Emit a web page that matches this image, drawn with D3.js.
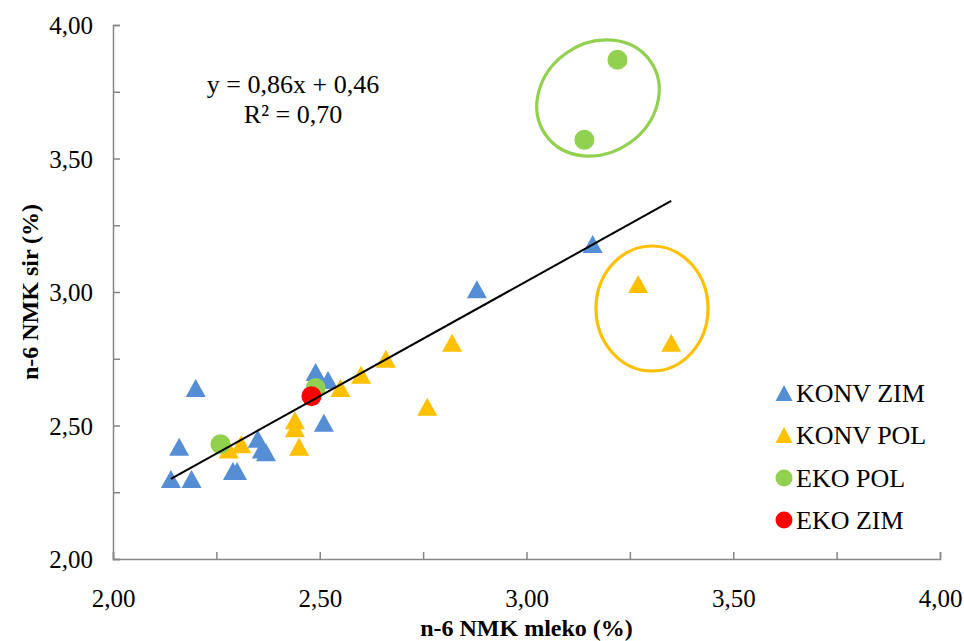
<!DOCTYPE html>
<html>
<head>
<meta charset="utf-8">
<script src="https://cdn.jsdelivr.net/npm/d3@7"></script>
<style>
  html, body { margin: 0; padding: 0; background: #ffffff; }
  svg { display: block; font-family: "Liberation Serif", "Times New Roman", serif; }
</style>
</head>
<body>
<svg id="chart" width="964" height="641"></svg>
<script>
// n-6 fatty acids: milk (x) vs cheese (y), in %
const konvZim = [
  [2.14, 2.30], [2.16, 2.42], [2.20, 2.64], [2.19, 2.30], [2.29, 2.33],
  [2.30, 2.33], [2.35, 2.45], [2.36, 2.41], [2.37, 2.40], [2.49, 2.70],
  [2.52, 2.67], [2.51, 2.51], [2.88, 3.01], [3.16, 3.18]
];
const konvPol = [
  [2.28, 2.41], [2.31, 2.43], [2.44, 2.52], [2.44, 2.49], [2.45, 2.42],
  [2.55, 2.64], [2.60, 2.69], [2.66, 2.75], [2.82, 2.81], [2.76, 2.57],
  [3.27, 3.03], [3.35, 2.81]
];
const ekoPol = [[2.26, 2.43], [2.49, 2.64], [3.14, 3.57], [3.22, 3.87]];
const ekoZim = [[2.48, 2.61]];

const seriesNames = ["KONV ZIM", "KONV POL", "EKO POL", "EKO ZIM"];
const seriesColors = ["#558ED5", "#FFC000", "#92D050", "#FF0000"];
const seriesShapes = ["triangle", "triangle", "circle", "circle"];

// regression shown on the chart
const slope = 0.86;
const intercept = 0.46;
const rSquared = 0.70;

const xTicks = [2.00, 2.25, 2.50, 2.75, 3.00, 3.25, 3.50, 3.75, 4.00];
const yTicks = [2.00, 2.25, 2.50, 2.75, 3.00, 3.25, 3.50, 3.75, 4.00];
const labelledTicks = [2.00, 2.50, 3.00, 3.50, 4.00];

const serif = "'Liberation Serif', 'Times New Roman', serif";
const svg = d3.select("#chart");
const x = d3.scaleLinear().domain([2, 4]).range([113, 940]);
const y = d3.scaleLinear().domain([2, 4]).range([559, 25]);

const comma = v => d3.format(".2f")(v).replace(".", ",");
const fmt = v => labelledTicks.some(t => Math.abs(t - v) < 1e-9) ? comma(v) : "";

const axisColor = "#868686";

// x axis: ticks point up into the plot
const gx = svg.append("g")
  .attr("transform", `translate(0,${y(2)})`)
  .call(d3.axisBottom(x).tickValues(xTicks).tickSize(-7).tickPadding(30).tickFormat(fmt));
// y axis: ticks point right into the plot
const gy = svg.append("g")
  .attr("transform", `translate(${x(2)},0)`)
  .call(d3.axisLeft(y).tickValues(yTicks).tickSize(-7).tickPadding(20).tickFormat(fmt));

[gx, gy].forEach(g => {
  g.attr("font-family", serif).attr("font-size", 25);
  g.select(".domain").attr("stroke", axisColor).attr("stroke-width", 1.5);
  g.selectAll(".tick line").attr("stroke", axisColor).attr("stroke-width", 1.5);
  g.selectAll(".tick text")
    .attr("fill", "#000")
    .style("font-family", serif)
    .style("font-size", "25px");
});
gy.selectAll(".tick text").attr("dy", "0.34em");

// axis titles
svg.append("text")
  .attr("x", (x(2) + x(4)) / 2).attr("y", 636)
  .attr("text-anchor", "middle")
  .style("font-family", serif)
  .style("font-size", "24px").style("font-weight", "bold")
  .text("n-6 NMK mleko (%)");
svg.append("text")
  .attr("transform", `translate(38,${y(3)}) rotate(-90)`)
  .attr("text-anchor", "middle")
  .style("font-family", serif)
  .style("font-size", "24px").style("font-weight", "bold")
  .text("n-6 NMK sir (%)");

// group ellipses
svg.append("ellipse")
  .attr("cx", 598).attr("cy", 98).attr("rx", 64).attr("ry", 55)
  .attr("transform", "rotate(-35,598,98)")
  .attr("fill", "none").attr("stroke", "#92D050").attr("stroke-width", 3.2);
svg.append("ellipse")
  .attr("cx", 652).attr("cy", 308.5).attr("rx", 56).attr("ry", 62.5)
  .attr("fill", "none").attr("stroke", "#FFC000").attr("stroke-width", 3.2);

// markers
const allSeries = [konvZim, konvPol, ekoPol, ekoZim];
const triW = 20, triH = 18, circR = 10;
function trianglePath(w, h) {
  return `M0,${-h / 2}L${w / 2},${h / 2}L${-w / 2},${h / 2}Z`;
}

allSeries.forEach((data, i) => {
  const g = svg.append("g");
  if (seriesShapes[i] === "triangle") {
    g.selectAll("path").data(data).join("path")
      .attr("d", trianglePath(triW, triH))
      .attr("transform", d => `translate(${x(d[0])},${y(d[1])})`)
      .attr("fill", seriesColors[i]);
  } else {
    g.selectAll("circle").data(data).join("circle")
      .attr("cx", d => x(d[0])).attr("cy", d => y(d[1])).attr("r", circR)
      .attr("fill", seriesColors[i]);
  }
});

// linear trend line over the full data range
const allX = allSeries.flat().map(d => d[0]);
const x0 = d3.min(allX), x1 = d3.max(allX);
svg.append("line")
  .attr("x1", x(x0)).attr("y1", y(slope * x0 + intercept))
  .attr("x2", x(x1)).attr("y2", y(slope * x1 + intercept))
  .attr("stroke", "#000").attr("stroke-width", 2);

// equation label
const eq = svg.append("text").attr("text-anchor", "middle")
  .style("font-family", serif).style("font-size", "26px");
eq.append("tspan").attr("x", 293).attr("y", 93)
  .text(`y = ${comma(slope)}x + ${comma(intercept)}`);
eq.append("tspan").attr("x", 293).attr("y", 123)
  .text(`R² = ${comma(rSquared)}`);

// legend
const legendRows = [393, 435, 478, 520];
seriesNames.forEach((name, i) => {
  const g = svg.append("g").attr("transform", `translate(784,${legendRows[i]})`);
  if (seriesShapes[i] === "triangle") {
    g.append("path").attr("d", trianglePath(17, 16)).attr("fill", seriesColors[i]);
  } else {
    g.append("circle").attr("r", 8.5).attr("fill", seriesColors[i]);
  }
  g.append("text").attr("x", 12).attr("dy", "0.35em")
    .style("font-family", serif)
    .style("font-size", "26px").text(name);
});
</script>
</body>
</html>
